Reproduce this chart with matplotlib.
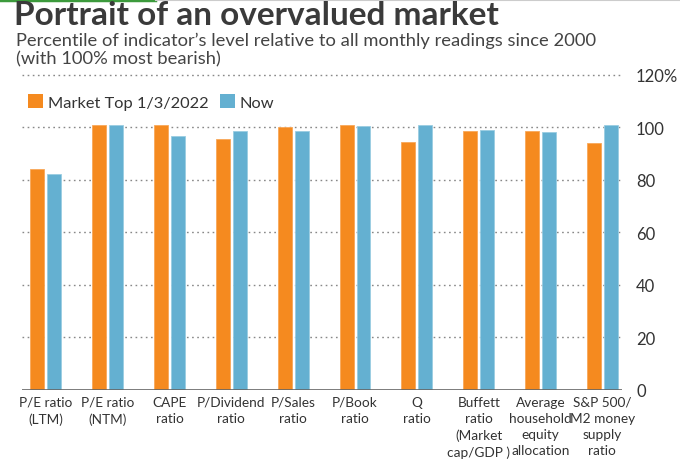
import matplotlib
matplotlib.use("Agg")
import matplotlib.pyplot as plt
import numpy as np
from matplotlib.patches import Patch

categories = ["P/E ratio\n(LTM)", "P/E ratio\n(NTM)", "CAPE\nratio", "P/Dividend\nratio",
              "P/Sales\nratio", "P/Book\nratio", "Q\nratio",
              "Buffett\nratio\n(Market\ncap/GDP )", "Average\nhousehold\nequity\nallocation",
              "S&P 500/\nM2 money\nsupply\nratio"]
market_top = [84.2, 100.8, 100.8, 95.5, 100.1, 100.8, 94.4, 98.8, 98.8, 94.0]
now = [82.2, 100.8, 96.8, 98.8, 98.8, 100.5, 100.8, 99.2, 98.1, 100.8]
yticks = [0, 20, 40, 60, 80, 100, 120]
ytick_labels = ["0", "20", "40", "60", "80", "100", "120%"]

plt.rcParams['font.family'] = ['Lato', 'DejaVu Sans']
ORANGE = "#F58A1F"
BLUE = "#64B0D1"
TXT = "#333333"

fig = plt.figure(figsize=(6.8, 4.6), dpi=100)
ax = fig.add_axes([0.032, 0.150, 0.883, 0.685])

x = np.arange(len(categories))
w = 0.225
off = 0.137
ax.bar(x - off, market_top, width=w, color=ORANGE, edgecolor="#F8A85A", linewidth=0.6, zorder=3)
ax.bar(x + off, now, width=w, color=BLUE, edgecolor="#9ACDE2", linewidth=0.6, zorder=3)

ax.set_xlim(-0.39, 9.32)
ax.set_ylim(0, 120)
ax.set_yticks(yticks)
ax.set_yticklabels(ytick_labels)
ax.yaxis.tick_right()
ax.tick_params(axis='y', length=0, pad=10, labelsize=12, labelcolor=TXT)
for t in ax.get_yticklabels():
    t.set_horizontalalignment('left')
for yv in yticks[1:]:
    ax.axhline(yv, color="#888888", linestyle=(0, (1.2, 2.5)), linewidth=1.0, zorder=1, clip_on=False)
ax.axhline(0, color="#666666", linewidth=1.2, zorder=4)

ax.set_xticks(x)
ax.set_xticklabels(categories, fontsize=9.8, color=TXT, linespacing=1.42)
ax.tick_params(axis='x', length=0, pad=4)
for s in ax.spines.values():
    s.set_visible(False)

handles = [Patch(facecolor=ORANGE, label="Market Top 1/3/2022"), Patch(facecolor=BLUE, label="Now")]
ax.legend(handles=handles, loc='upper left', bbox_to_anchor=(0.0, 0.96), ncol=2, frameon=False,
          fontsize=11.8, handlelength=0.9, handleheight=0.9, handletextpad=0.3, columnspacing=0.7,
          borderaxespad=0, labelcolor=TXT)

fig.text(0.020, 0.997, "Portrait of an overvalued market", fontsize=24, fontweight='bold',
         color="#3a3a3a", va='top', ha='left')
fig.text(0.024, 0.93, "Percentile of indicator\u2019s level relative to all monthly readings since 2000\n(with 100% most bearish)",
         fontsize=13.2, color="#444444", va='top', ha='left', linespacing=1.2)
fig.add_artist(plt.Line2D([0, 0.228], [0.998, 0.998], color="#3c9a3c", linewidth=2.5, transform=fig.transFigure))
fig.add_artist(plt.Line2D([0.228, 1.0], [0.998, 0.998], color="#cccccc", linewidth=0.8, transform=fig.transFigure))

fig.savefig("out.png", dpi=100)
